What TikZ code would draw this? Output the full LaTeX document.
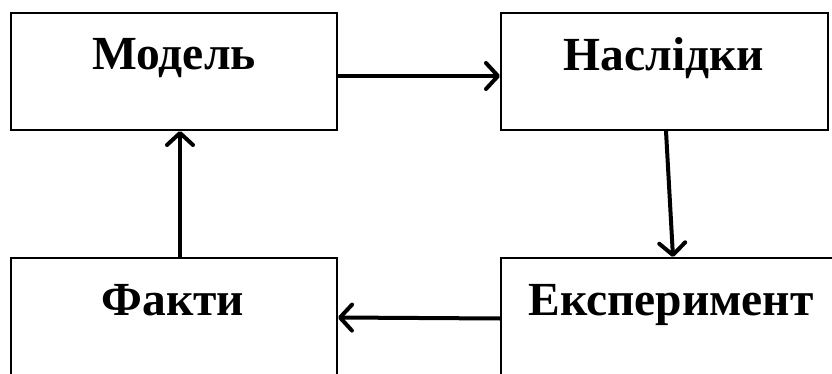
\documentclass[tikz,border=0pt]{standalone}
\usepackage{fontspec}
\setmainfont{Liberation Serif}
\usetikzlibrary{arrows.meta}
\tikzset{
  box/.style={draw, line width=2pt, rectangle, inner sep=0pt},
  lbl/.style={anchor=base, inner sep=0pt, font=\fontsize{47.5}{52}\selectfont\bfseries},
  arr/.style={line width=4pt, -{Straight Barb[length=12pt,width=26pt,line width=4pt,round]}}
}
\begin{document}
\begin{tikzpicture}[x=1pt,y=-1pt]
  \useasboundingbox (0,0) rectangle (832,374);
  % four boxes
  \node[box, minimum width=326pt, minimum height=117pt] (model) at (174,71.5) {};
  \node[box, minimum width=327pt, minimum height=117pt] (nasl)  at (664.5,71.5) {};
  \node[box, minimum width=326pt, minimum height=117pt] (fakty) at (174,316.5) {};
  \node[box, minimum width=341pt, minimum height=117pt] (exper) at (671.5,316.5) {};
  % captions
  \node[lbl] (tmodel) at (174,70) {Модель};
  \node[lbl] (tnasl)  at (664,71) {Наслідки};
  \node[lbl] (tfakty) at (173,315) {Факти};
  \node[lbl] (texper) at (671,315) {Експеримент};
  % connectors
  \draw[arr] ([yshift=-4.5pt]model.east) -- ([yshift=-4.5pt]nasl.west);
  \draw[arr] ([xshift=1.5pt]nasl.south) -- ([xshift=1.5pt]exper.north);
  \draw[arr] ([yshift=-2pt]exper.west) -- ([yshift=-1pt]fakty.east);
  \draw[arr] ([xshift=6pt]fakty.north) -- ([xshift=6pt]model.south);
\end{tikzpicture}
\end{document}
